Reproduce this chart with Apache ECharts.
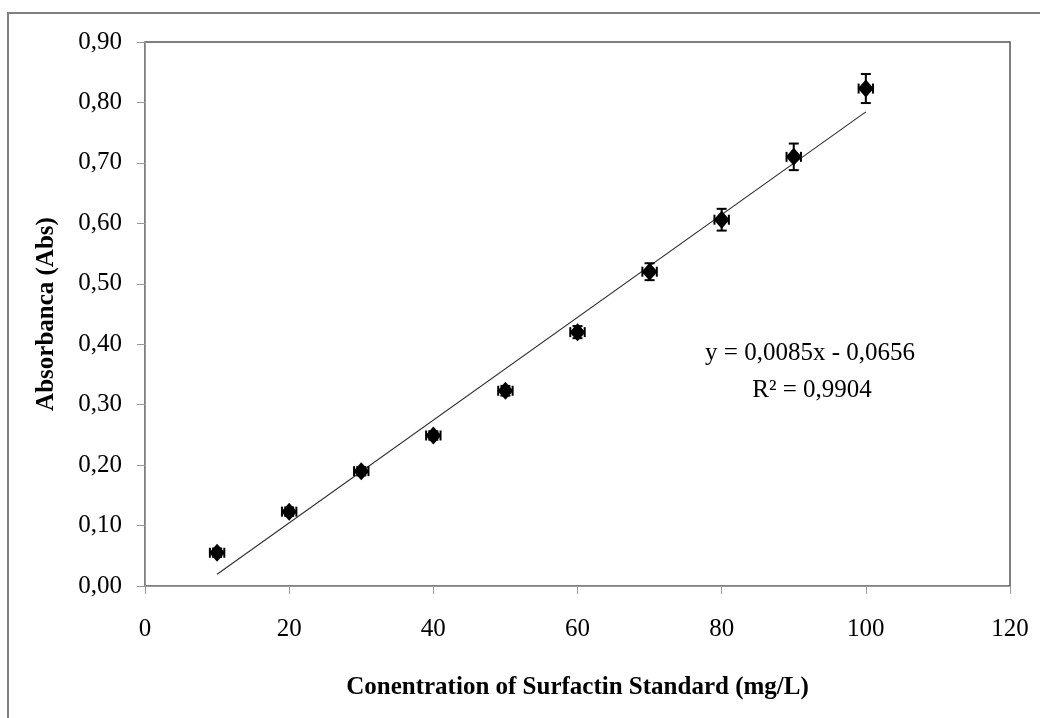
<!DOCTYPE html>
<html>
<head>
<meta charset="utf-8">
<script src="https://cdn.jsdelivr.net/npm/echarts@6/dist/echarts.min.js"></script>
<style>html,body{margin:0;padding:0;background:#fff}#c{width:1040px;height:718px}</style>
</head>
<body>
<div id="c"></div>
<script>
const concentrations = [10, 20, 30, 40, 50, 60, 70, 80, 90, 100];
const absorbance = [0.055, 0.123, 0.190, 0.249, 0.323, 0.420, 0.520, 0.606, 0.710, 0.823];
const yErrors = [0.007, 0.007, 0.007, 0.007, 0.008, 0.010, 0.014, 0.018, 0.022, 0.024];
const xErrors = [1, 1, 1, 1, 1, 1, 1, 1, 1, 1];
const trendX = [10, 100];
const trendY = [0.0194, 0.7844];
const equationText = 'y = 0,0085x - 0,0656';
const r2Text = 'R² = 0,9904';
const xTicks = [0, 20, 40, 60, 80, 100, 120];
const yTicks = [0, 0.1, 0.2, 0.3, 0.4, 0.5, 0.6, 0.7, 0.8, 0.9];

const FONT = '"Liberation Serif", "DejaVu Serif", serif';
const points = concentrations.map((x, i) => [x, absorbance[i], xErrors[i], yErrors[i]]);
const trend = trendX.map((x, i) => [x, trendY[i]]);

const chart = echarts.init(document.getElementById('c'), null, {renderer: 'canvas'});
chart.setOption({
  backgroundColor: '#fff',
  animation: false,
  grid: {left: 145, right: 30, top: 42, bottom: 132, show: true, borderColor: '#555', borderWidth: 1.5, backgroundColor: 'transparent'},
  xAxis: {
    type: 'value', min: xTicks[0], max: xTicks[xTicks.length - 1], interval: 20,
    name: 'Conentration of Surfactin Standard (mg/L)', nameLocation: 'middle', nameGap: 89,
    nameTextStyle: {fontFamily: FONT, fontWeight: 'bold', fontSize: 25, color: '#000'},
    axisLine: {show: true, lineStyle: {color: '#9a9a9a', width: 1}},
    axisTick: {show: true, length: 8, lineStyle: {color: '#9a9a9a'}},
    axisLabel: {fontFamily: FONT, fontSize: 25, color: '#000', margin: 31},
    splitLine: {show: false}
  },
  yAxis: {
    type: 'value', min: yTicks[0], max: yTicks[yTicks.length - 1], interval: 0.1,
    name: 'Absorbanca (Abs)', nameLocation: 'middle', nameGap: 86, nameRotate: 90,
    nameTextStyle: {fontFamily: FONT, fontWeight: 'bold', fontSize: 25, color: '#000'},
    axisLine: {show: true, lineStyle: {color: '#9a9a9a', width: 1}},
    axisTick: {show: true, length: 8, lineStyle: {color: '#9a9a9a'}},
    axisLabel: {fontFamily: FONT, fontSize: 25, color: '#000', margin: 23,
      formatter: v => v.toFixed(2).replace('.', ',')},
    splitLine: {show: false}
  },
  series: [
    {
      type: 'line', data: trend, symbol: 'none',
      lineStyle: {color: '#333', width: 1.2}, z: 2
    },
    {
      type: 'custom', z: 3,
      data: points,
      renderItem: function (params, api) {
        const x = api.value(0), y = api.value(1), ex = api.value(2), ey = api.value(3);
        const c = api.coord([x, y]);
        const top = api.coord([x, y + ey]);
        const bot = api.coord([x, y - ey]);
        const lft = api.coord([x - ex, y]);
        const rgt = api.coord([x + ex, y]);
        const cap = 5;
        const st = {stroke: '#000', lineWidth: 2};
        const children = [
          {type: 'line', shape: {x1: c[0], y1: top[1], x2: c[0], y2: bot[1]}, style: st},
          {type: 'line', shape: {x1: c[0] - cap, y1: top[1], x2: c[0] + cap, y2: top[1]}, style: st},
          {type: 'line', shape: {x1: c[0] - cap, y1: bot[1], x2: c[0] + cap, y2: bot[1]}, style: st},
          {type: 'line', shape: {x1: lft[0], y1: c[1], x2: rgt[0], y2: c[1]}, style: st},
          {type: 'line', shape: {x1: lft[0], y1: c[1] - cap, x2: lft[0], y2: c[1] + cap}, style: st},
          {type: 'line', shape: {x1: rgt[0], y1: c[1] - cap, x2: rgt[0], y2: c[1] + cap}, style: st},
          {type: 'polygon', shape: {points: [[c[0], c[1] - 9], [c[0] + 8, c[1]], [c[0], c[1] + 9], [c[0] - 8, c[1]]]}, style: {fill: '#000'}}
        ];
        return {type: 'group', children: children};
      }
    }
  ],
  graphic: [
    {type: 'rect', shape: {x: 8, y: 13, width: 1100, height: 800}, style: {fill: 'none', stroke: '#808080', lineWidth: 2}, z: 10, silent: true},
    {type: 'text', x: 810, y: 353, style: {text: equationText, font: '25px ' + FONT, fill: '#000', align: 'center', verticalAlign: 'middle'}, z: 10},
    {type: 'text', x: 812, y: 390, style: {text: r2Text, font: '25px ' + FONT, fill: '#000', align: 'center', verticalAlign: 'middle'}, z: 10}
  ]
});
</script>
</body>
</html>
